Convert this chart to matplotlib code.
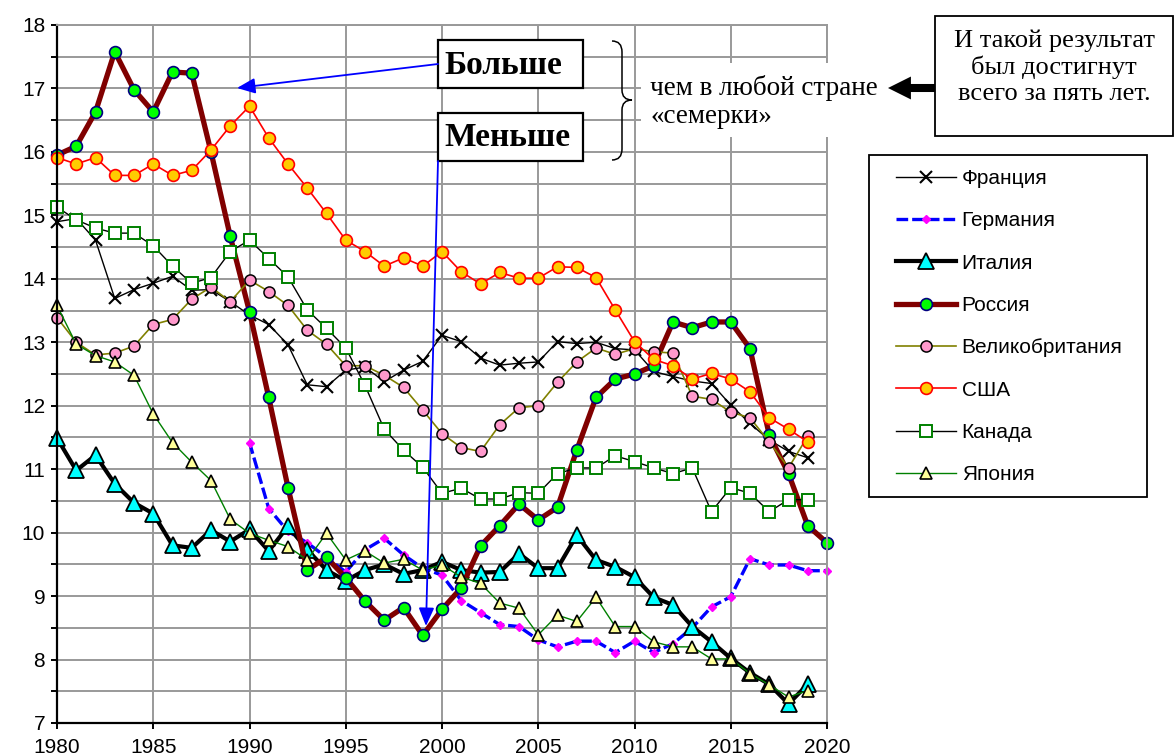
import matplotlib
matplotlib.use("Agg")
import matplotlib.pyplot as plt
from matplotlib.path import Path
from matplotlib.patches import PathPatch, Rectangle, FancyArrowPatch

plt.rcParams['font.family'] = ['Liberation Sans', 'DejaVu Sans']

# годы
years = list(range(1980, 2021))
years_de = list(range(1990, 2021))

# данные по странам (1980-2019, Россия до 2020, Германия с 1990)
france = [14.90, 14.95, 14.61, 13.69, 13.83, 13.93, 14.04, 13.82, 13.83, 13.64,
          13.43, 13.28, 12.96, 12.33, 12.30, 12.56, 12.61, 12.38, 12.56, 12.70,
          13.11, 13.01, 12.75, 12.64, 12.67, 12.69, 13.01, 12.98, 13.00, 12.90,
          12.88, 12.54, 12.46, 12.39, 12.35, 12.01, 11.72, 11.46, 11.28, 11.18]
germany = [11.42, 10.38, 10.02, 9.84, 9.61, 9.38, 9.73, 9.91, 9.65, 9.44,
           9.33, 8.93, 8.74, 8.55, 8.52, 8.31, 8.20, 8.29, 8.29, 8.11,
           8.29, 8.11, 8.25, 8.50, 8.83, 8.99, 9.59, 9.49, 9.49, 9.40, 9.40]
italy = [11.49, 10.98, 11.22, 10.77, 10.47, 10.30, 9.80, 9.76, 10.04, 9.86,
         10.05, 9.71, 10.10, 9.73, 9.41, 9.24, 9.41, 9.50, 9.35, 9.41,
         9.54, 9.41, 9.37, 9.38, 9.67, 9.44, 9.44, 9.96, 9.57, 9.46,
         9.30, 8.98, 8.86, 8.52, 8.28, 8.02, 7.79, 7.61, 7.30, 7.61]
russia = [15.95, 16.09, 16.63, 17.58, 16.98, 16.63, 17.26, 17.24, 16.00, 14.67,
          13.48, 12.13, 10.71, 9.41, 9.61, 9.29, 8.92, 8.62, 8.82, 8.38,
          8.79, 9.13, 9.79, 10.11, 10.45, 10.20, 10.40, 11.30, 12.13, 12.42,
          12.50, 12.63, 13.32, 13.23, 13.32, 13.32, 12.90, 11.54, 10.93, 10.11, 9.84]
uk = [13.39, 13.00, 12.80, 12.83, 12.94, 13.28, 13.36, 13.68, 13.87, 13.64,
      13.98, 13.80, 13.58, 13.19, 12.97, 12.63, 12.63, 12.48, 12.29, 11.93,
      11.56, 11.34, 11.28, 11.70, 11.97, 12.00, 12.37, 12.69, 12.91, 12.81,
      12.90, 12.85, 12.83, 12.15, 12.10, 11.90, 11.81, 11.43, 11.02, 11.52]
usa = [15.91, 15.81, 15.91, 15.63, 15.63, 15.81, 15.63, 15.71, 16.03, 16.41,
       16.72, 16.22, 15.81, 15.43, 15.03, 14.61, 14.43, 14.20, 14.33, 14.20,
       14.43, 14.11, 13.92, 14.10, 14.01, 14.01, 14.19, 14.18, 14.02, 13.51,
       13.01, 12.73, 12.63, 12.42, 12.51, 12.42, 12.22, 11.81, 11.63, 11.43]
canada = [15.13, 14.93, 14.80, 14.72, 14.72, 14.52, 14.20, 13.93, 14.02, 14.43,
          14.61, 14.32, 14.03, 13.51, 13.22, 12.91, 12.32, 11.63, 11.30, 11.03,
          10.62, 10.70, 10.53, 10.53, 10.63, 10.62, 10.93, 11.02, 11.02, 11.21,
          11.12, 11.02, 10.93, 11.02, 10.33, 10.71, 10.62, 10.33, 10.52, 10.52]
japan = [13.58, 12.97, 12.79, 12.69, 12.48, 11.87, 11.42, 11.11, 10.82, 10.21,
         9.99, 9.88, 9.78, 9.57, 9.99, 9.57, 9.71, 9.52, 9.58, 9.41,
         9.49, 9.30, 9.20, 8.89, 8.81, 8.39, 8.70, 8.60, 8.98, 8.52,
         8.52, 8.28, 8.20, 8.20, 8.01, 8.01, 7.78, 7.60, 7.41, 7.51]

W, H = 1174, 756


def fx(x):
    return x / W


def fy(y):
    return 1 - y / H


fig = plt.figure(figsize=(W / 100, H / 100), dpi=100)
ax = fig.add_axes([fx(57), fy(723), (827 - 57) / W, (723 - 25) / H])

n = len(france)
ax.plot(years[:n], france, color='black', lw=1.0, marker='x', ms=9, mew=1.5,
        mec='black', label='Франция', clip_on=False)
ax.plot(years_de, germany, color='#0000ff', lw=2.4, ls=(0, (3.5, 1.2)), marker='D', ms=4.5,
        mfc='#ff00ff', mec='#ff00ff', label='Германия', clip_on=False)
ax.plot(years[:n], italy, color='black', lw=3.0, marker='^', ms=11.5, mfc='#00ffff',
        mec='black', mew=1.3, label='Италия', clip_on=False)
ax.plot(years, russia, color='#800000', lw=3.8, marker='o', ms=8.5, mfc='#00ff00',
        mec='#000080', mew=1.2, label='Россия', clip_on=False)
ax.plot(years[:n], uk, color='#808000', lw=1.2, marker='o', ms=8, mfc='#ff99cc',
        mec='black', mew=1.1, label='Великобритания', clip_on=False)
ax.plot(years[:n], usa, color='#ff0000', lw=1.2, marker='o', ms=8.5, mfc='#ffcc00',
        mec='#ff0000', mew=1.2, label='США', clip_on=False)
ax.plot(years[:n], canada, color='black', lw=1.0, marker='s', ms=8, mfc='white',
        mec='#008000', mew=1.4, label='Канада', clip_on=False)
ax.plot(years[:n], japan, color='#008000', lw=1.0, marker='^', ms=8.5, mfc='#ffff99',
        mec='black', mew=1.2, label='Япония', clip_on=False)

# оси и сетка
ax.set_xlim(1980, 2020)
ax.set_ylim(7, 18)
ax.set_xticks(range(1980, 2021, 5))
ax.set_yticks(range(7, 19))
ax.set_yticks([y + 0.5 for y in range(7, 18)], minor=True)
ax.grid(True, which='both', color='#999999', lw=1.4)
ax.set_axisbelow(True)
ax.tick_params(axis='both', which='both', direction='out', labelsize=15, width=1.4)
ax.tick_params(axis='y', which='both', length=4.5, pad=4)
ax.tick_params(axis='x', which='both', length=4, pad=7)
for s in ['left', 'bottom']:
    ax.spines[s].set_linewidth(1.6)
for s in ['top', 'right']:
    ax.spines[s].set_color('#999999')
    ax.spines[s].set_linewidth(1.4)

# легенда
fig.add_artist(Rectangle((fx(869), fy(497)), (1147 - 869) / W, (497 - 155) / H,
                         transform=fig.transFigure, fill=False, ec='black', lw=1.3))
fig.legend(loc='upper left', bbox_to_anchor=(fx(896), fy(169)), frameon=False,
           borderpad=0, borderaxespad=0, handlelength=2.9, handletextpad=0.25,
           labelspacing=1.12, fontsize=15, numpoints=1)

serif = ['Liberation Serif', 'DejaVu Serif']

# рамки "Больше" / "Меньше"
for top, word in [(40, 'Больше'), (113, 'Меньше')]:
    fig.add_artist(Rectangle((fx(438), fy(top + 48)), 145 / W, 48 / H,
                             transform=fig.transFigure, fc='white', ec='black', lw=1.6))
    fig.text(fx(444), fy(top + 25), word, family=serif, fontsize=24, fontweight='bold',
             ha='left', va='center')

# синие стрелки
for start, end in [((438, 64), (237, 88)), ((438, 161), (426, 626))]:
    fig.add_artist(FancyArrowPatch((fx(start[0]), fy(start[1])), (fx(end[0]), fy(end[1])),
                                   transform=fig.transFigure, arrowstyle='-|>,head_length=1.1,head_width=0.47',
                                   mutation_scale=10, color='#0000ff', lw=1.3,
                                   shrinkA=0, shrinkB=0))

# фигурная скобка
pts = [(612, 41), (622, 41), (622, 52), (622, 90), (622, 100), (632, 100),
       (622, 100), (622, 110), (622, 149), (622, 160), (612, 160)]
codes = [Path.MOVETO, Path.CURVE3, Path.CURVE3, Path.LINETO, Path.CURVE3, Path.CURVE3,
         Path.CURVE3, Path.CURVE3, Path.LINETO, Path.CURVE3, Path.CURVE3]
brace = Path([(fx(x), fy(y)) for x, y in pts], codes)
fig.add_artist(PathPatch(brace, transform=fig.transFigure, fill=False, ec='black', lw=1.1))

fig.add_artist(Rectangle((fx(641), fy(137)), (884 - 641) / W, 74 / H,
                         transform=fig.transFigure, fc='white', ec='none'))
fig.text(fx(650), fy(102), 'чем в любой стране\n«семерки»', family=serif, fontsize=19.5,
         ha='left', va='center', linespacing=1.2)

# правая рамка с текстом и чёрной стрелкой
fig.add_artist(Rectangle((fx(935), fy(136)), (1173 - 935) / W, 120 / H,
                         transform=fig.transFigure, fc='white', ec='black', lw=1.3))
fig.text(fx(1054), fy(67), 'И такой результат\nбыл достигнут\nвсего за пять лет.',
         family=serif, fontsize=19, ha='center', va='center', linespacing=1.2)
fig.add_artist(FancyArrowPatch((fx(935), fy(88)), (fx(888), fy(88)), transform=fig.transFigure,
                               arrowstyle='simple,head_length=1.65,head_width=1.65,tail_width=0.58',
                               mutation_scale=10, color='black', lw=0, shrinkA=0, shrinkB=0))

fig.savefig('out.png', dpi=100)
